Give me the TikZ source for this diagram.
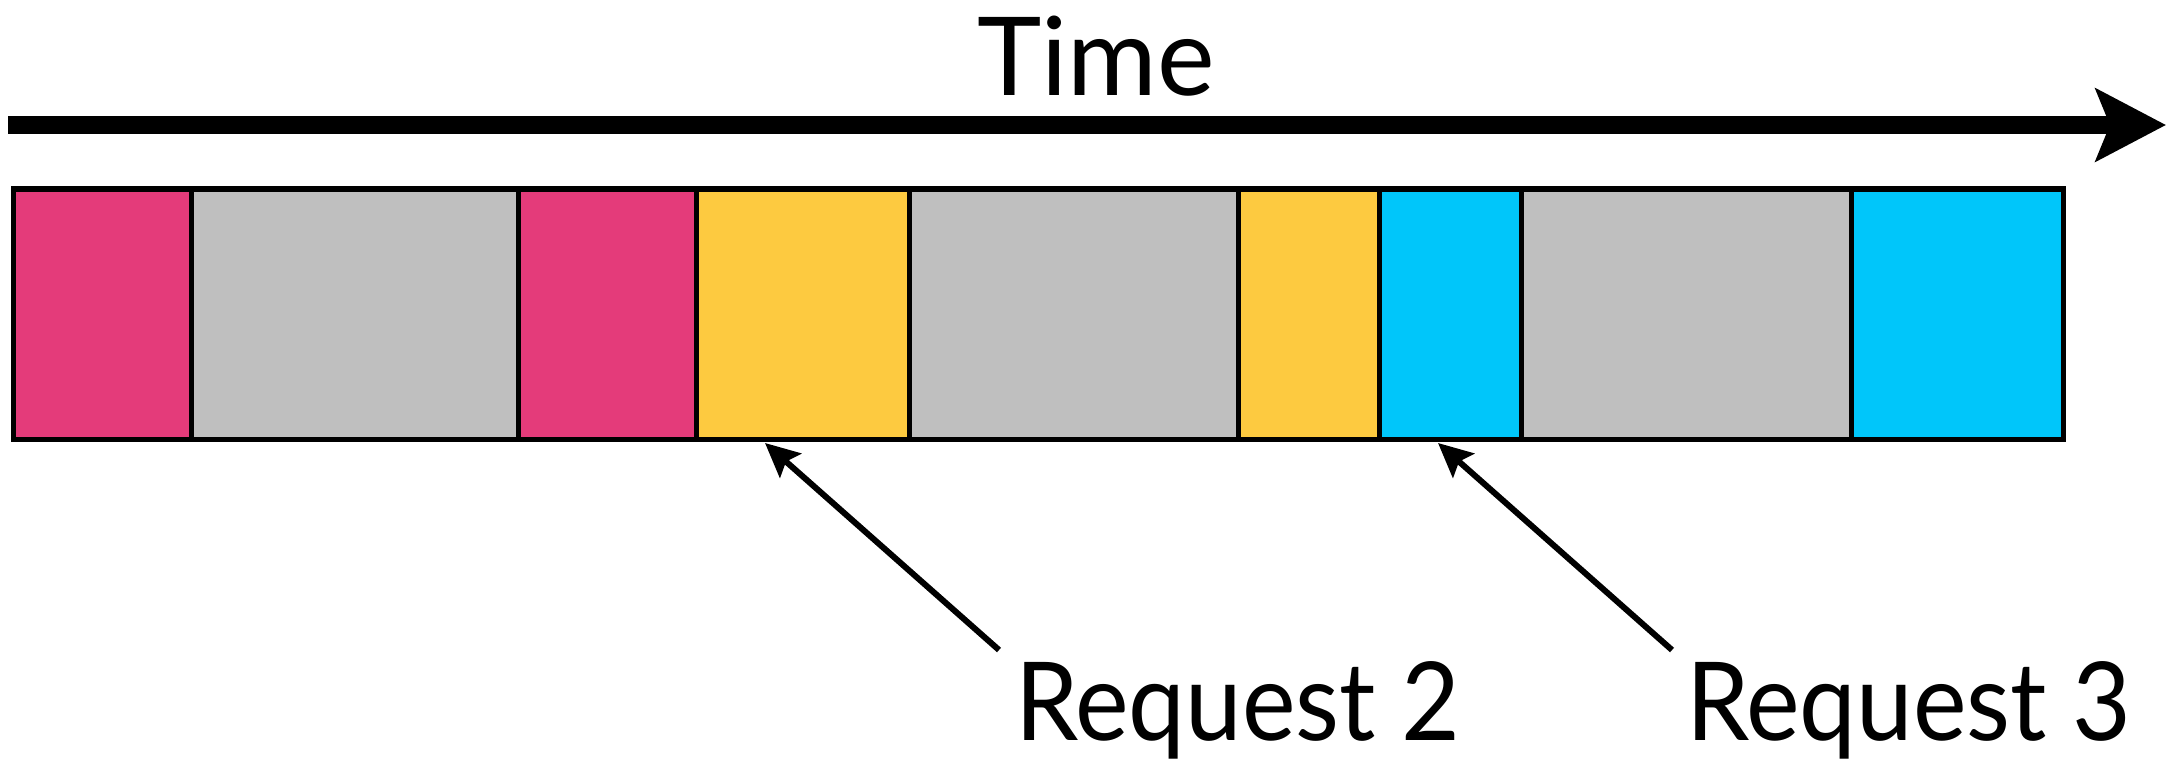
\documentclass[tikz,border=0pt]{standalone}
\usepackage{fontspec}
\setmainfont{Lato}
\newfontfamily\reqfont{Lato}[FakeStretch=0.93]
\usetikzlibrary{arrows.meta}
\definecolor{reqpink}{RGB}{228,59,122}
\definecolor{idlegrey}{RGB}{191,191,191}
\definecolor{reqyellow}{RGB}{253,202,64}
\definecolor{reqcyan}{RGB}{0,198,250}
\tikzset{
  seg/.style={draw=black, line width=0.05cm, inner sep=0pt, outer sep=0pt, anchor=north west},
  lbl/.style={inner sep=0pt, outer sep=0pt, anchor=base west, font=\fontsize{31}{31}\selectfont},
  reqlbl/.style={lbl, font=\reqfont\fontsize{31}{31}\selectfont},
  timearrow/.style={line width=0.186cm, -{Stealth[length=0.7cm, width=0.72cm, inset=0.14cm]}},
  reqarrow/.style={line width=0.06cm, -{Stealth[length=0.34cm, width=0.32cm, inset=0.06cm]}}
}
\begin{document}
\begin{tikzpicture}[x=0.01cm, y=-0.01cm]
\useasboundingbox (0,0) rectangle (2167,770);
% time axis
\coordinate (tstart) at (8,125);
\coordinate (tend) at (2166,125);
\draw[timearrow] (tstart) -- (tend);
\node[lbl] (time) at (977,96) {Time};
% segments
\foreach \name/\xa/\xb/\col in {s1/13.5/191/reqpink, s2/191/518/idlegrey, s3/518/696/reqpink, s4/696/909/reqyellow, s5/909/1238/idlegrey, s6/1238/1379.5/reqyellow, s7/1379.5/1521/reqcyan, s8/1521/1851.5/idlegrey, s9/1851.5/2063/reqcyan}{
  \pgfmathsetmacro{\w}{(\xb-\xa)*0.01}
  \node[seg, fill=\col, minimum width=\w cm, minimum height=2.505cm] (\name) at (\xa,189) {};
}
% labels
\node[reqlbl] (req2) at (1015,740) {Request 2};
\node[reqlbl] (req3) at (1686,740) {Request 3};
\coordinate (r2tail) at (999,650);
\coordinate (r2tip) at (765,443);
\coordinate (r3tail) at (1672,650);
\coordinate (r3tip) at (1438,443);
\draw[reqarrow] (r2tail) -- (r2tip);
\draw[reqarrow] (r3tail) -- (r3tip);
\end{tikzpicture}
\end{document}
